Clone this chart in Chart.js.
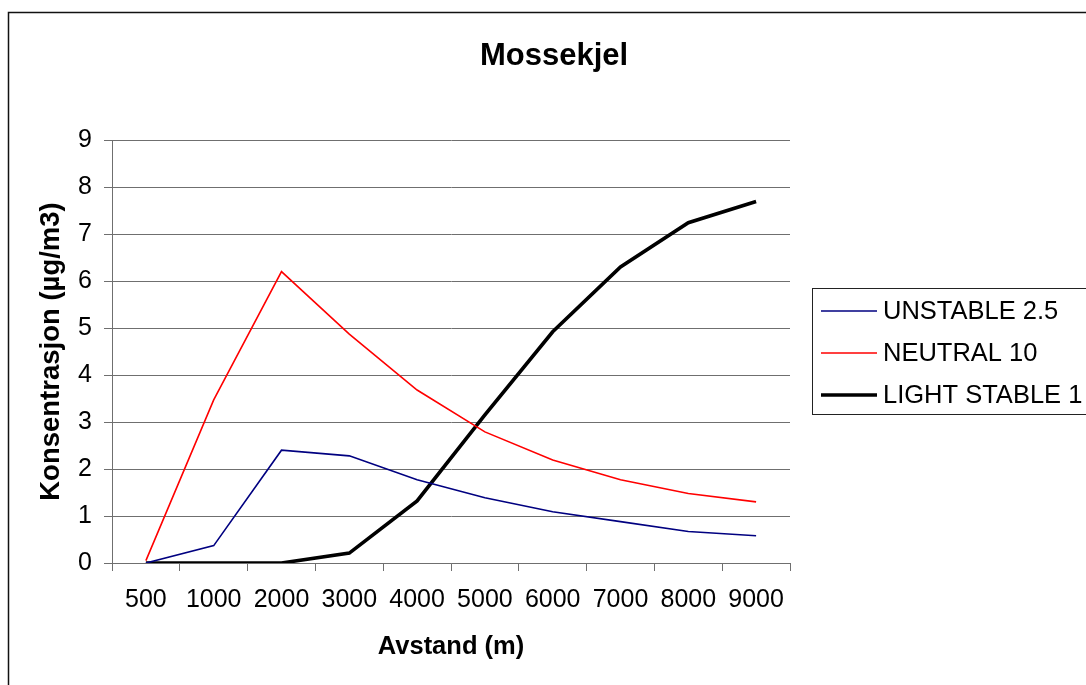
<!DOCTYPE html>
<html>
<head>
<meta charset="utf-8">
<title>Mossekjel</title>
<script src="https://cdn.jsdelivr.net/npm/chart.js@4"></script>
<style>
  html, body { margin: 0; padding: 0; background: #ffffff; }
  #wrap { width: 1086px; height: 685px; }
</style>
</head>
<body>
<div id="wrap"><canvas id="chart" width="1086" height="685"></canvas></div>
<script>
// Distance categories (m)
const distances = ['500', '1000', '2000', '3000', '4000', '5000', '6000', '7000', '8000', '9000'];

// Concentration (µg/m3) per stability class
const unstable = [0, 0.37, 2.40, 2.28, 1.77, 1.39, 1.09, 0.88, 0.67, 0.58];
const neutral = [0.05, 3.47, 6.20, 4.87, 3.68, 2.79, 2.19, 1.77, 1.48, 1.30];
const lightStable = [0, 0, 0, 0.21, 1.32, 3.15, 4.92, 6.30, 7.24, 7.69];

const seriesNames = ['UNSTABLE 2.5', 'NEUTRAL 10', 'LIGHT STABLE 1'];
const yMin = 0, yMax = 9, yStep = 1;

const FONT = '"Liberation Sans", Arial, Helvetica, sans-serif';
const GRID = '#6f6f6f';

// Outer frame, title and boxed legend on the right
const frameAndLegend = {
  id: 'frameAndLegend',
  beforeDraw(chart) {
    const ctx = chart.ctx;
    ctx.save();
    ctx.fillStyle = '#ffffff';
    ctx.fillRect(0, 0, chart.width, chart.height);
    ctx.strokeStyle = '#111111';
    ctx.lineWidth = 1.5;
    ctx.strokeRect(8.5, 12.5, 1200, 800);
    ctx.restore();
  },
  afterDraw(chart) {
    const ctx = chart.ctx;
    ctx.save();
    // title
    ctx.fillStyle = '#000000';
    ctx.font = 'bold 31px ' + FONT;
    ctx.textAlign = 'center';
    ctx.textBaseline = 'middle';
    ctx.fillText('Mossekjel', 554, 56);

    // legend box
    ctx.strokeStyle = '#222222';
    ctx.lineWidth = 1;
    ctx.strokeRect(812.5, 288.5, 400, 126);
    const rows = [311, 353, 395];
    ctx.font = '25.5px ' + FONT;
    ctx.textAlign = 'left';
    chart.data.datasets.forEach((ds, i) => {
      ctx.beginPath();
      ctx.strokeStyle = ds.borderColor;
      ctx.lineWidth = ds.borderWidth;
      ctx.moveTo(821, rows[i]);
      ctx.lineTo(877, rows[i]);
      ctx.stroke();
      ctx.fillStyle = '#000000';
      ctx.fillText(ds.label, 883, rows[i] + 1);
    });
    ctx.restore();
  }
};

new Chart(document.getElementById('chart'), {
  type: 'line',
  data: {
    labels: distances,
    datasets: [
      { label: seriesNames[0], data: unstable, borderColor: '#000080', borderWidth: 1.6 },
      { label: seriesNames[1], data: neutral, borderColor: '#ff0000', borderWidth: 1.6 },
      { label: seriesNames[2], data: lightStable, borderColor: '#000000', borderWidth: 3.6 }
    ]
  },
  options: {
    responsive: false,
    animation: false,
    devicePixelRatio: 1,
    layout: { padding: { top: 140, right: 296, left: 0, bottom: 0 } },
    elements: {
      line: { tension: 0, fill: false, borderCapStyle: 'butt', borderJoinStyle: 'miter' },
      point: { radius: 0, hoverRadius: 0 }
    },
    plugins: {
      legend: { display: false },
      title: { display: false },
      tooltip: { enabled: false }
    },
    scales: {
      x: {
        type: 'category',
        offset: true,
        afterFit(scale) { scale.height = 122; },
        grid: {
          offset: true,
          drawOnChartArea: false,
          drawTicks: true,
          tickLength: 8,
          color: GRID,
          lineWidth: 1
        },
        border: { display: true, color: GRID, width: 1 },
        ticks: {
          color: '#000000',
          font: { family: FONT, size: 25 },
          padding: 14,
          maxRotation: 0,
          autoSkip: false
        },
        title: {
          display: true,
          text: 'Avstand (m)',
          color: '#000000',
          font: { family: FONT, size: 25.5, weight: 'bold' },
          padding: { top: 0, bottom: 23 }
        }
      },
      y: {
        min: yMin,
        max: yMax,
        afterFit(scale) { scale.width = 112; },
        grid: {
          color: GRID,
          lineWidth: 1,
          drawTicks: true,
          tickLength: 8
        },
        border: { display: true, color: GRID, width: 1 },
        ticks: {
          stepSize: yStep,
          color: '#000000',
          font: { family: FONT, size: 25 },
          padding: 12
        },
        title: {
          display: true,
          text: 'Konsentrasjon (µg/m3)',
          color: '#000000',
          font: { family: FONT, size: 27.5, weight: 'bold' },
          padding: { top: 35, bottom: 0 }
        }
      }
    }
  },
  plugins: [frameAndLegend]
});
</script>
</body>
</html>
